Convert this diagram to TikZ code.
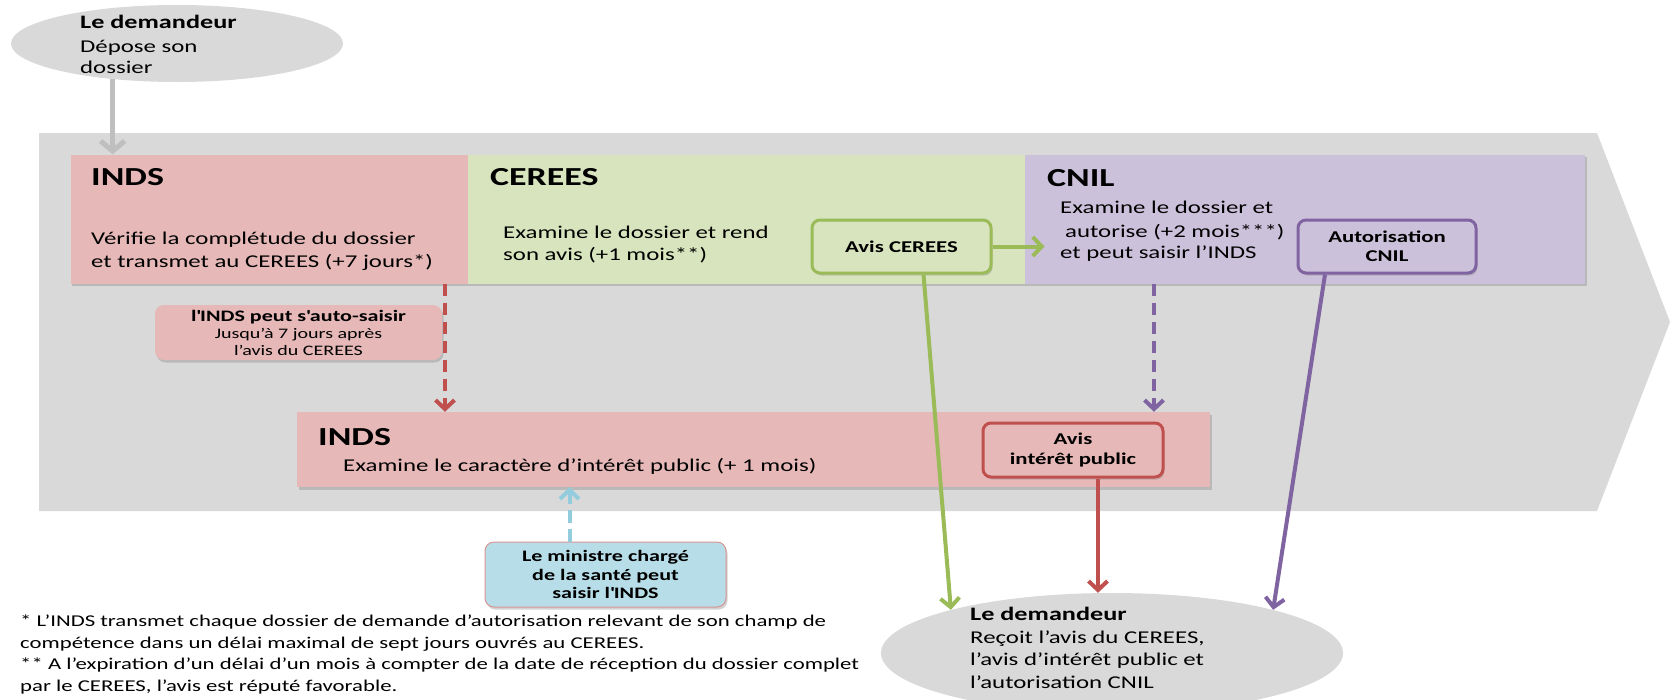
\documentclass[tikz,border=0pt]{standalone}
\usepackage{fontspec}
\setmainfont{Carlito}[FakeStretch=1.38]
\usetikzlibrary{arrows.meta,shapes.geometric,shadows}
\definecolor{bandgrey}{HTML}{D9D9D9}
\definecolor{ellgrey}{HTML}{D9D9D9}
\definecolor{indsfill}{HTML}{E6B9B8}
\definecolor{cerfill}{HTML}{D7E4BD}
\definecolor{cnilfill}{HTML}{CCC1DA}
\definecolor{greenL}{HTML}{9BBB59}
\definecolor{purpleL}{HTML}{8064A2}
\definecolor{redL}{HTML}{C0504D}
\definecolor{minfill}{HTML}{B7DEE8}
\definecolor{minborder}{HTML}{D99694}
\definecolor{blueL}{HTML}{93CDDD}
\definecolor{greyL}{HTML}{BFBFBF}
\begin{document}
\begin{tikzpicture}[x=1pt,y=-1pt,
  shad/.style={drop shadow={shadow xshift=1.5pt,shadow yshift=-2.5pt,opacity=0.35}},
  panel/.style={shape=rectangle, inner sep=0pt, shad},
  smallbox/.style={shape=rectangle, rounded corners=8pt, line width=3pt, inner sep=0pt, align=center, shad,
    font=\fontsize{16.5}{19.5}\selectfont\bfseries},
  ell/.style={shape=ellipse, fill=ellgrey, inner sep=0pt},
  txt/.style={anchor=base west, inner sep=0pt, font=\fontsize{18}{22}\selectfont},
  txtb/.style={anchor=base west, inner sep=0pt, font=\fontsize{19}{22}\selectfont\bfseries},
  ttl/.style={anchor=base west, inner sep=0pt, font=\fontsize{26}{30}\selectfont\bfseries},
  foot/.style={anchor=base west, inner sep=0pt, font=\fontsize{16.5}{20}\selectfont},
  arr/.style={-{Straight Barb[length=9pt,width=19pt]}, line width=4pt},
  dsh/.style={dash pattern=on 12pt off 7pt}
]
\useasboundingbox (0,0) rectangle (1679,699);
\clip (0,0) rectangle (1679,699);
\fill[white] (0,0) rectangle (1679,699);
% big grey process arrow
\fill[bandgrey] (39,133) -- (1597,133) -- (1670,322) -- (1597,511) -- (39,511) -- cycle;

% top ellipse
\node[ell, minimum width=332pt, minimum height=77pt] (dem1) at (177,43.5) {};
\node[txtb] (dem1a) at (80,28) {Le demandeur};
\node[txt] (dem1b) at (80,52) {Dépose son};
\node[txt] (dem1c) at (80,73) {dossier};

% three stage panels
\node[panel, fill=indsfill, minimum width=398pt, minimum height=129pt] (inds1) at (269.5,219) {};
\node[panel, fill=cerfill, minimum width=557pt, minimum height=129pt] (cer) at (746.5,219) {};
\node[panel, fill=cnilfill, minimum width=560pt, minimum height=129pt] (cnil) at (1305,219) {};

\node[ttl] (inds1t) at (91,185) {INDS};
\node[txt] (inds1a) at (91,244) {Vérifie la complétude du dossier};
\node[txt] (inds1b) at (91,267) {et transmet au CEREES (+7 jours*)};

\node[ttl] (cert) at (490,185) {CEREES};
\node[txt] (cera) at (503,238) {Examine le dossier et rend};
\node[txt] (cerb) at (503,260) {son avis (+1 mois**)};

\node[ttl] (cnilt) at (1047,186) {CNIL};
\node[txt] (cnila) at (1060,213) {Examine le dossier et};
\node[txt] (cnilb) at (1065,237) {autorise (+2 mois***)};
\node[txt] (cnilc) at (1060,258) {et peut saisir l’INDS};

\node[smallbox, draw=greenL, fill=cerfill, minimum width=179pt, minimum height=53pt] (avisC) at (901.5,246.5) {Avis CEREES};
\node[smallbox, draw=purpleL, fill=cnilfill, minimum width=178pt, minimum height=53pt] (autC) at (1387,246.5) {Autorisation\\CNIL};

% auto-saisine box
\node[shape=rectangle, rounded corners=9pt, fill=indsfill, inner sep=0pt, align=center, shad,
  minimum width=287pt, minimum height=55pt, font=\fontsize{14.5}{17}\selectfont] (auto) at (298.5,332.5)
  {{\fontsize{16}{17}\selectfont\bfseries l\textquotesingle INDS peut s\textquotesingle auto-saisir}\\Jusqu’à 7 jours après\\l’avis du CEREES};

% second INDS panel
\node[panel, fill=indsfill, minimum width=913pt, minimum height=75pt] (inds2) at (753.5,449.5) {};
\node[ttl] (inds2t) at (318,445) {INDS};
\node[txt] (inds2a) at (343,471) {Examine le caractère d’intérêt public (+ 1 mois)};
\node[smallbox, draw=redL, fill=indsfill, minimum width=180pt, minimum height=54pt] (avisI) at (1073,450) {Avis\\intérêt public};

% ministre box
\node[shape=rectangle, rounded corners=9pt, draw=minborder, line width=1pt, fill=minfill, inner sep=0pt, align=center, shad,
  minimum width=241pt, minimum height=65pt, font=\fontsize{16}{18.5}\selectfont\bfseries] (mini) at (605.5,574.5)
  {Le ministre chargé\\de la santé peut\\saisir l\textquotesingle INDS};

% bottom ellipse
\node[ell, minimum width=462pt, minimum height=120pt] (dem2) at (1112,653) {};
\node[txtb] (dem2a) at (970,620) {Le demandeur};
\node[txt] (dem2b) at (970,643) {Reçoit l’avis du CEREES,};
\node[txt] (dem2c) at (970,665) {l’avis d’intérêt public et};
\node[txt] (dem2d) at (970,688) {l’autorisation CNIL};

% footnotes
\node[foot] (f1) at (20,626) {* L’INDS transmet chaque dossier de demande d’autorisation relevant de son champ de};
\node[foot] (f2) at (20,648) {compétence dans un délai maximal de sept jours ouvrés au CEREES.};
\node[foot] (f3) at (20,669) {** A l’expiration d’un délai d’un mois à compter de la date de réception du dossier complet};
\node[foot] (f4) at (20,691) {par le CEREES, l’avis est réputé favorable.};

% connectors
\coordinate (xred) at (445,0);
\coordinate (xpur) at (1154,0);
\draw[greyL, line width=5pt, -{Straight Barb[length=10pt,width=24pt]}] (dem1.209) -- (dem1.209 |- inds1.north);
\draw[redL, arr, dsh] (inds1.south -| xred) -- (inds2.north -| xred);
\draw[purpleL, arr, dsh] (cnil.south -| xpur) -- (inds2.north -| xpur);
\draw[greenL, arr] (avisC.east) -- ++(52,0);
\draw[greenL, arr] ([xshift=22pt]avisC.south) -- (dem2.165);
\draw[redL, arr] ([xshift=25pt]avisI.south) -- ([xshift=25pt]avisI.south |- dem2.north);
\draw[purpleL, arr] ([xshift=-62pt]autC.south) -- (dem2.15);
\draw[blueL, arr, dash pattern=on 13pt off 6pt] ([xshift=-36pt]mini.north) -- ([xshift=-36pt]mini.north |- inds2.south);
\end{tikzpicture}
\end{document}
